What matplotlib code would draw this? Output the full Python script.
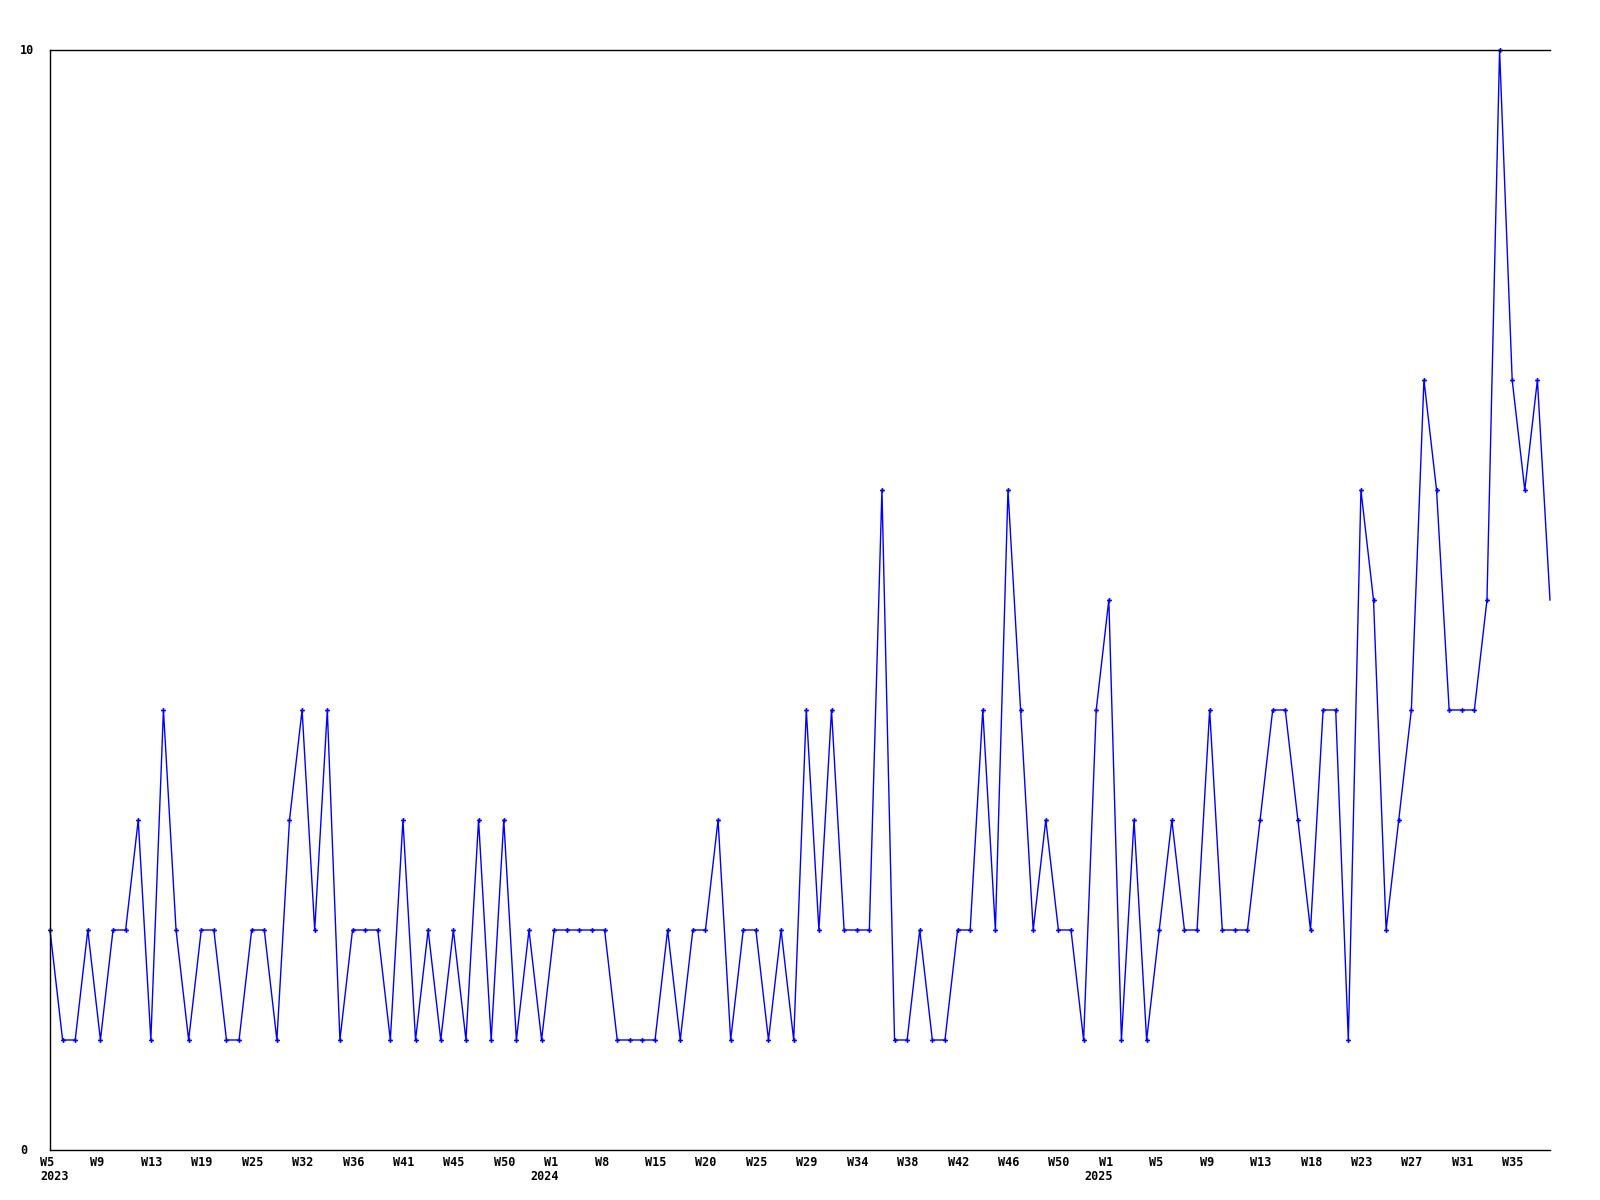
import numpy as np
import matplotlib
matplotlib.use('Agg')
import matplotlib.pyplot as plt
import matplotlib.transforms as mtransforms

# weekly values, one per plotted point
values = [2, 1, 1, 2, 1, 2, 2, 3, 1, 4,
          2, 1, 2, 2, 1, 1, 2, 2, 1, 3,
          4, 2, 4, 1, 2, 2, 2, 1, 3, 1,
          2, 1, 2, 1, 3, 1, 3, 1, 2, 1,
          2, 2, 2, 2, 2, 1, 1, 1, 1, 2,
          1, 2, 2, 3, 1, 2, 2, 1, 2, 1,
          4, 2, 4, 2, 2, 2, 6, 1, 1, 2,
          1, 1, 2, 2, 4, 2, 6, 4, 2, 3,
          2, 2, 1, 4, 5, 1, 3, 1, 2, 3,
          2, 2, 4, 2, 2, 2, 3, 4, 4, 3,
          2, 4, 4, 1, 6, 5, 2, 3, 4, 7,
          6, 4, 4, 4, 5, 10, 7, 6, 7, 5]

tick_labels = ['W5', 'W9', 'W13', 'W19', 'W25', 'W32', 'W36', 'W41', 'W45', 'W50',
               'W1', 'W8', 'W15', 'W20', 'W25', 'W29', 'W34', 'W38', 'W42', 'W46',
               'W50', 'W1', 'W5', 'W9', 'W13', 'W18', 'W23', 'W27', 'W31', 'W35']
tick_step = 4
year_labels = ['2023', '2024', '2025']
year_ticks = [0, 10, 21]   # index into tick_labels

x = np.arange(len(values))
font = dict(family='DejaVu Sans Mono', weight='bold', size=8.5)

fig = plt.figure(figsize=(16, 12), dpi=100)
ax = fig.add_axes([50/1600, 50/1200, 1500/1600, 1100/1200])

# last point sits on the right edge, drawn without a marker
ax.plot(x, values, color='#0000ff', lw=1.0, marker='P', markersize=3.5,
        markeredgewidth=0, markevery=list(range(len(values) - 1)), clip_on=False)

ax.set_xlim(0, len(values) - 1)
ax.set_ylim(0, 10)
ax.spines['right'].set_visible(False)
for s in ['left', 'bottom', 'top']:
    ax.spines[s].set_linewidth(1.0)
    ax.spines[s].set_color('black')
ax.set_xticks([])
ax.set_yticks([])

# y labels: only min and max, left aligned near the figure edge
ytr = ax.get_yaxis_transform()
for v in [0, 10]:
    ax.text(-30/1500, v, str(v), transform=ytr, ha='left', va='center', **font)

# x labels every 4 points, shifted left a bit
xtr = ax.get_xaxis_transform()
wk_tr = mtransforms.offset_copy(xtr, fig=fig, x=-10, y=-12, units='dots')
for k, lab in enumerate(tick_labels):
    ax.text(k * tick_step, 0, lab, transform=wk_tr, ha='left', va='center', **font)

yr_tr = mtransforms.offset_copy(xtr, fig=fig, x=-10, y=-27, units='dots')
for k, (lab, ti) in enumerate(zip(year_labels, year_ticks)):
    ax.text(ti * tick_step, 0, lab, transform=yr_tr,
            ha='left' if k == 0 else 'center', va='center', **font)

fig.savefig('out.png', dpi=100)
